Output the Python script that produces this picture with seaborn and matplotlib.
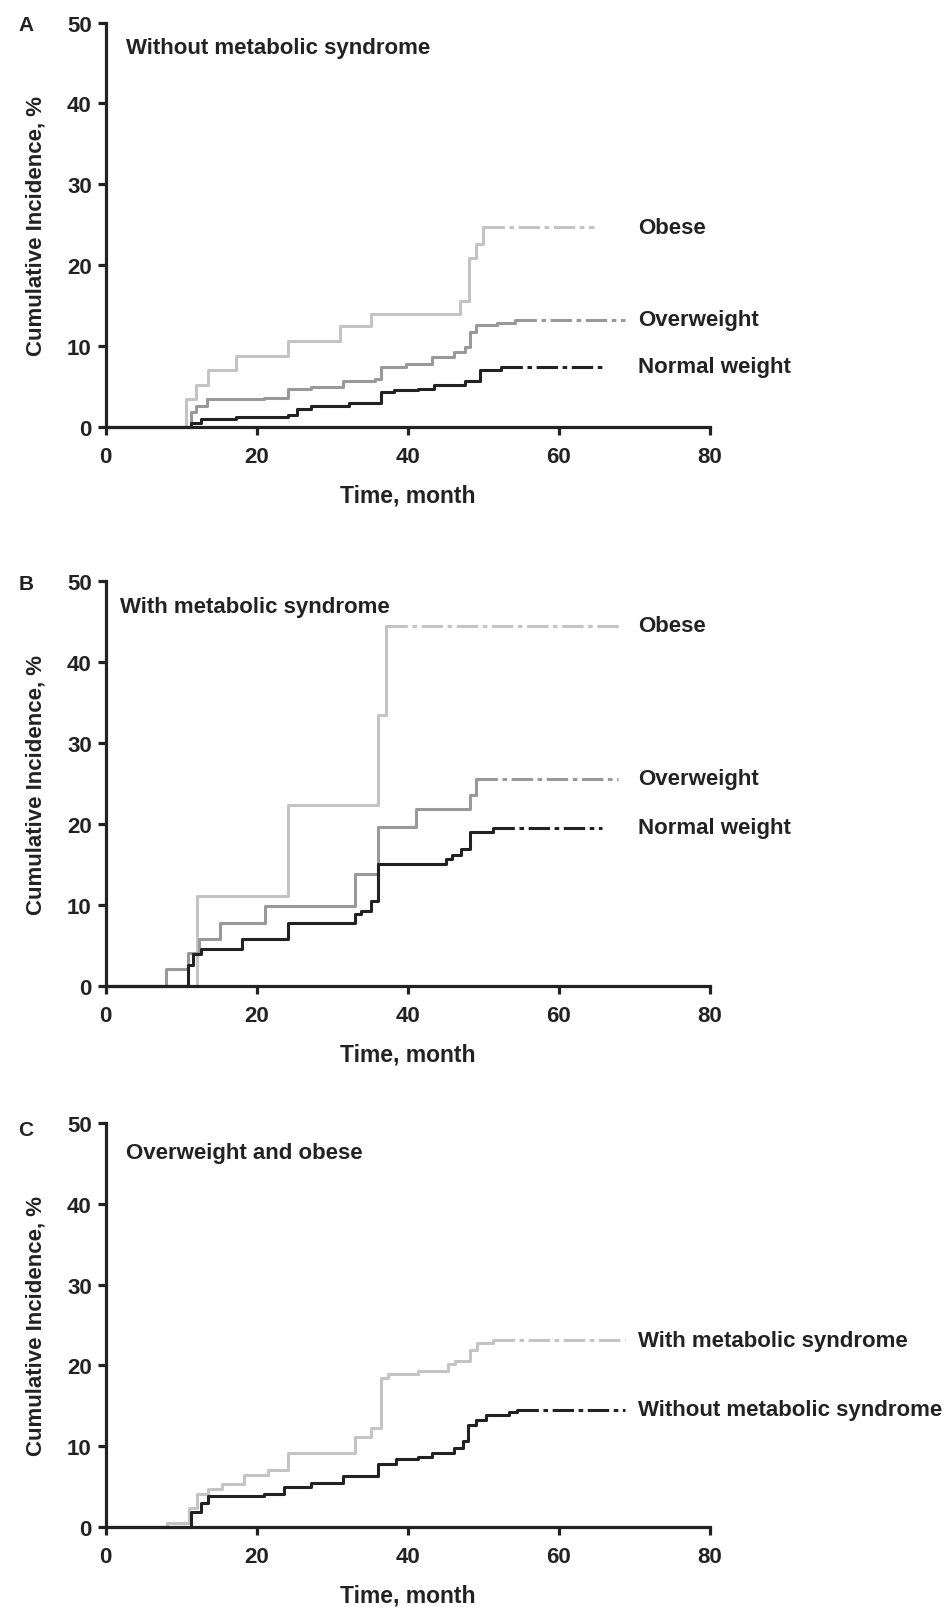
import numpy as np
import pandas as pd
import seaborn as sns
import matplotlib.pyplot as plt

A_obese_t = [0, 10.7, 12.0, 13.6, 17.3, 24.1, 31.0, 35.1, 46.9, 48.1, 49.0, 50.0, 64.7]
A_obese_y = [0, 3.4, 5.1, 7.0, 8.8, 10.6, 12.4, 14.0, 15.5, 20.9, 22.6, 24.7, 24.7]
A_over_t = [0, 11.3, 12.0, 13.4, 20.9, 24.1, 27.2, 31.4, 35.6, 36.4, 39.8, 43.2, 46.1, 47.6, 48.2, 49.0, 51.8, 54.2, 68.8]
A_over_y = [0, 1.75, 2.6, 3.4, 3.6, 4.6, 4.9, 5.6, 5.9, 7.4, 7.8, 8.6, 9.25, 9.9, 11.75, 12.6, 12.8, 13.2, 13.2]
A_norm_t = [0, 11.3, 12.6, 17.3, 24.1, 25.4, 27.2, 32.2, 36.4, 38.2, 41.4, 43.5, 47.6, 49.5, 52.4, 65.7]
A_norm_y = [0, 0.5, 1.0, 1.25, 1.5, 2.2, 2.5, 2.9, 4.25, 4.5, 4.7, 5.1, 5.7, 7.0, 7.4, 7.4]

B_obese_t = [0, 12.1, 24.1, 36.0, 37.1, 68.1]
B_obese_y = [0, 11.1, 22.3, 33.5, 44.5, 44.5]
B_over_t = [0, 8.0, 10.9, 12.3, 15.1, 21.1, 33.0, 36.0, 41.1, 48.2, 49.0, 67.8]
B_over_y = [0, 2.1, 4.0, 5.8, 7.8, 9.9, 13.8, 19.6, 21.9, 23.6, 25.6, 25.6]
B_norm_t = [0, 10.9, 11.6, 12.6, 18.1, 24.1, 33.0, 33.8, 35.1, 36.0, 45.0, 45.8, 47.1, 48.3, 51.3, 65.7]
B_norm_y = [0, 2.6, 3.9, 4.5, 5.8, 7.8, 8.8, 9.25, 10.4, 15.1, 15.6, 16.1, 16.9, 19.0, 19.5, 19.5]

C_with_t = [0, 8.1, 11.0, 12.1, 13.6, 15.4, 18.3, 21.5, 24.1, 33.0, 35.1, 36.4, 37.4, 41.4, 45.3, 46.3, 48.2, 49.2, 51.3, 68.8]
C_with_y = [0, 0.45, 2.4, 4.1, 4.75, 5.3, 6.4, 7.0, 9.2, 11.2, 12.2, 18.5, 18.9, 19.3, 20.2, 20.6, 21.9, 22.75, 23.1, 23.1]
C_without_t = [0, 11.3, 12.6, 13.6, 20.9, 23.6, 27.2, 31.4, 36.1, 38.5, 41.4, 43.2, 46.1, 47.3, 48.0, 49.0, 50.3, 53.4, 54.5, 68.8]
C_without_y = [0, 1.8, 3.0, 3.8, 4.1, 5.0, 5.5, 6.3, 7.8, 8.4, 8.7, 9.1, 9.8, 10.6, 12.6, 13.25, 13.9, 14.2, 14.5, 14.5]

LIGHT = '#c4c4c4'
MID = '#999999'
DARK = '#222222'

panels = [
    ('A', 'Without metabolic syndrome', [
        ('Obese', A_obese_t, A_obese_y, LIGHT),
        ('Overweight', A_over_t, A_over_y, MID),
        ('Normal weight', A_norm_t, A_norm_y, DARK)]),
    ('B', 'With metabolic syndrome', [
        ('Obese', B_obese_t, B_obese_y, LIGHT),
        ('Overweight', B_over_t, B_over_y, MID),
        ('Normal weight', B_norm_t, B_norm_y, DARK)]),
    ('C', 'Overweight and obese', [
        ('With metabolic syndrome', C_with_t, C_with_y, LIGHT),
        ('Without metabolic syndrome', C_without_t, C_without_y, DARK)]),
]

sns.set_style('ticks')
plt.rcParams['font.family'] = ['Liberation Sans', 'DejaVu Sans']
plt.rcParams['font.weight'] = 'bold'
plt.rcParams['text.color'] = DARK
plt.rcParams['axes.labelcolor'] = DARK
plt.rcParams['xtick.color'] = DARK
plt.rcParams['ytick.color'] = DARK

W, H = 929, 1568  # reference pixel grid used for placement
fig = plt.figure(figsize=(9.53, 16.08), dpi=100)
zero_y = [417, 962, 1490]
title_pos = [(0.034, 0.939), (0.024, 0.939), (0.034, 0.926)]
letter_y = [25, 570, 1102]

for k, (letter, title, curves) in enumerate(panels):
    ax = fig.add_axes([103 / W, 1 - zero_y[k] / H, 589 / W, 394 / H])
    for name, t, y, col in curves:
        df = pd.DataFrame({'t': t, 'y': y})
        # solid step curve up to the last event
        sns.lineplot(data=df.iloc[:-1], x='t', y='y', ax=ax, color=col, lw=2.2,
                     drawstyle='steps-post', estimator=None, clip_on=False)
        # censored tail
        sns.lineplot(data=df.iloc[-2:], x='t', y='y', ax=ax, color=col, lw=2.2,
                     estimator=None, linestyle=(0, (7, 1.5, 1.5, 1.5)), clip_on=False)
        ax.text(70.5, y[-1], name, fontsize=16, fontweight='bold', va='center', ha='left')
    ax.set_xlim(0, 80)
    ax.set_ylim(0, 50)
    ax.set_xticks([0, 20, 40, 60, 80])
    ax.set_yticks([0, 10, 20, 30, 40, 50])
    ax.set_xlabel('Time, month', fontsize=16.5, fontweight='bold')
    ax.set_ylabel('Cumulative Incidence, %', fontsize=16, fontweight='bold')
    ax.xaxis.set_label_coords(0.5, -0.14)
    ax.yaxis.set_label_coords(-0.098, 0.5)
    ax.tick_params(length=6, width=2.3, labelsize=16, pad=4)
    ax.tick_params(axis='x', pad=8)
    for lab in ax.get_xticklabels() + ax.get_yticklabels():
        lab.set_fontweight('bold')
    sns.despine(ax=ax)
    for s in ['left', 'bottom']:
        ax.spines[s].set_linewidth(2.3)
        ax.spines[s].set_color(DARK)
    ax.text(title_pos[k][0], title_pos[k][1], title, transform=ax.transAxes,
            fontsize=16, fontweight='bold', va='center', ha='left')
    fig.text(18 / W, 1 - letter_y[k] / H, letter, fontsize=15, fontweight='bold',
             va='center', ha='left')

fig.savefig('out.png', dpi=100)
